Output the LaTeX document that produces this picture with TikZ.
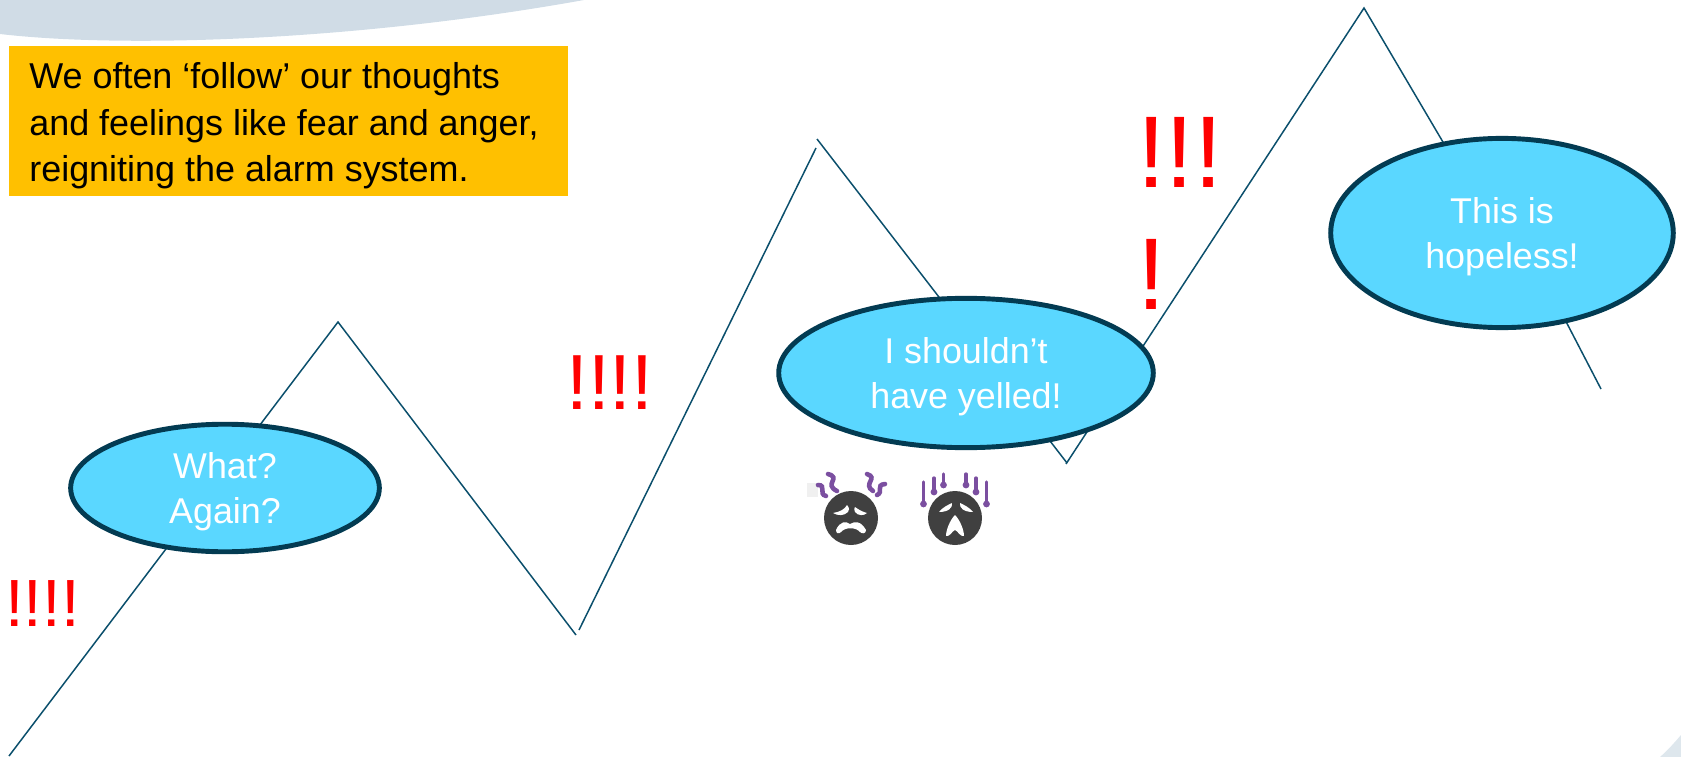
\documentclass[tikz,border=0pt]{standalone}
\usepackage{fontspec}
\setmainfont{Liberation Sans}
\definecolor{cbBand}{HTML}{D0DCE6}
\definecolor{cbOrange}{HTML}{FFC000}
\definecolor{cbCyan}{HTML}{5AD7FF}
\definecolor{cbNavy}{HTML}{033B52}
\definecolor{cbTeal}{HTML}{0B4F6C}
\definecolor{cbFace}{HTML}{404040}
\definecolor{cbPurple}{HTML}{7B4FA0}
\usetikzlibrary{positioning,shapes.geometric}
\tikzset{
  thought/.style={ellipse, draw=cbNavy, line width=2.8pt, fill=cbCyan, text=white,
    align=center, inner sep=0pt, text depth=0pt, font=\fontsize{20.4}{26}\selectfont},
  alarm/.style={text=red, inner sep=0pt, anchor=base west},
  wave/.style={cbTeal, line width=0.85pt},
  fume/.style={cbPurple, line width=2.6pt, line cap=round},
  gauge/.style={cbPurple, line width=1.9pt, line cap=round}
}
\begin{document}
\begin{tikzpicture}[x=0.02cm, y=-0.02cm]
        \useasboundingbox (0,0) rectangle (1681,757);
        % Backdrop
        \fill[cbBand] (0,0) -- (0,34) .. controls (120,48) and (350,42) .. (584,0) -- cycle;
        \fill[cbBand!70] (1681,735) -- (1681,757) -- (1660,757) .. controls (1668,750) and (1675,742) .. (1681,735) -- cycle;
        % Note
        \node[fill=cbOrange, minimum width=318.6pt, minimum height=85pt, inner sep=0pt] (noteBox) at (288.5,121) {};
        \node[anchor=west, align=left, inner sep=0pt, font=\fontsize{20.45}{26.4}\selectfont] (noteText) at (29,126)
          {We often ‘follow’ our thoughts\\and feelings like fear and anger,\\reigniting the alarm system.};
        % Zigzag
        \coordinate (w0) at (9,756);
        \coordinate (w1) at (338,322);
        \coordinate (w2) at (576,635);
        \coordinate (w3) at (579,630);
        \coordinate (w4) at (816,148);
        \coordinate (w5) at (817,139);
        \coordinate (w6) at (1067,463);
        \coordinate (w7) at (1066,464);
        \coordinate (w8) at (1364,8);
        \coordinate (w9) at (1450,154);
        \coordinate (w10) at (1560,310);
        \coordinate (w11) at (1601,389);
        \draw[wave] (w0) -- (w1) -- (w2);
        \draw[wave] (w3) -- (w4);
        \draw[wave] (w5) -- (w6);
        \draw[wave] (w7) -- (w8) -- (w9);
        \draw[wave] (w10) -- (w11);
        % Thoughts
        \node[thought, minimum width=175.7pt, minimum height=72.6pt] (again) at (225,488) {What?\\Again?};
        \node[thought, minimum width=213.2pt, minimum height=85pt] (yelled) at (966,373) {I shouldn’t\\have yelled!};
        \node[thought, minimum width=195pt, minimum height=107.7pt] (hopeless) at (1502,233) {This is\\hopeless!};
        % Alarm marks
        \node[alarm, font=\fontsize{38}{38}\selectfont] (markA) at (5,626) {!!!!};
        \node[alarm, font=\fontsize{44.5}{44.5}\selectfont] (markB) at (566,409) {!!!!};
        \node[alarm, font=\fontsize{58}{58}\selectfont] (markC) at (1137,188) {!!!};
        \node[alarm, font=\fontsize{58}{58}\selectfont] (markD) at (1137,309) {!};
        % Left face
        \fill[black!6] (807,483) rectangle (818,497);
        \fill[cbFace] (851,518) circle (27);
        \fill[white] (833,513) .. controls (840,512) and (845,509) .. (847,505) .. controls (850,508) and (849,511) .. (848,512) .. controls (844,516) and (838,516) .. (833,513) -- cycle;
        \fill[white] (855,507) .. controls (859,510) and (863,512) .. (867,513) .. controls (864,516) and (858,516) .. (855,512) .. controls (854,510) and (854,508) .. (855,507) -- cycle;
        \fill[white] (836,530) .. controls (840,521) and (846,521) .. (850,524) .. controls (855,521) and (861,521) .. (866,530) .. controls (866,534) and (862,534) .. (860,532) .. controls (856,527) and (845,527) .. (841,532) .. controls (839,534) and (836,534) .. (836,530) -- cycle;
        \draw[fume] (818,485) .. controls (827,485) and (818,494) .. (826,496);
        \draw[fume] (828,474) .. controls (842,478) and (823,484) .. (837,491);
        \draw[fume] (867,474) .. controls (879,478) and (862,484) .. (873,491);
        \draw[fume] (885,484) .. controls (875,485) and (884,492) .. (877,495);
        % Right face
        \fill[cbFace] (955,518) circle (27);
        \fill[white] (939,512) .. controls (943,507) and (948,505) .. (952,503) .. controls (953,508) and (948,512) .. (939,512) -- cycle;
        \fill[white] (973,512) .. controls (969,507) and (964,505) .. (960,503) .. controls (959,508) and (964,512) .. (973,512) -- cycle;
        \fill[white] (955,515) .. controls (960,520) and (964,530) .. (964,536) .. controls (960,537) and (958,531) .. (955,530) .. controls (952,531) and (950,537) .. (946,536) .. controls (946,530) and (950,520) .. (955,515) -- cycle;
        \foreach \gx/\gy/\gz in {923.5/482/504, 934/478/492, 943.5/474/485, 966/474/485, 976/478/492, 986.5/482/504}{
          \draw[gauge] (\gx,\gy) -- (\gx,\gz);
          \fill[cbPurple] (\gx,\gz) circle (3.4);
        }
\end{tikzpicture}
\end{document}
